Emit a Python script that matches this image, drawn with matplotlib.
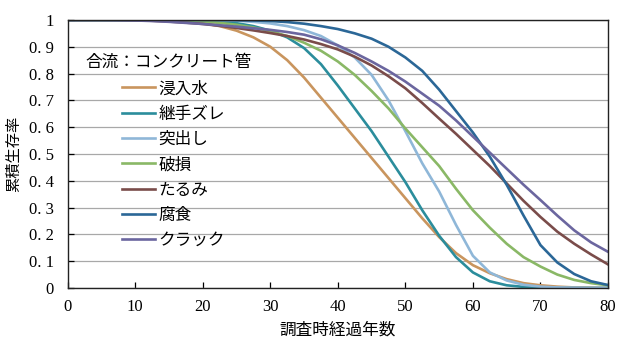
import numpy as np
import matplotlib
matplotlib.use("Agg")
import matplotlib.pyplot as plt

plt.rcParams['font.family'] = ['Noto Sans CJK JP', 'DejaVu Sans']

# elapsed years at survey (every 2.5 years)
years = [i * 2.5 for i in range(33)]

shinnyusui = [1.0, 1.0, 1.0, 1.0, 1.0, 1.0, 0.998, 0.995, 0.988, 0.977, 0.96, 0.935, 0.9,
              0.85, 0.785, 0.71, 0.635, 0.56, 0.485, 0.41, 0.335, 0.26, 0.19, 0.13, 0.085,
              0.055, 0.033, 0.018, 0.01, 0.005, 0.002, 0.001, 0.0]
tsugite = [1.0, 1.0, 1.0, 1.0, 1.0, 1.0, 1.0, 1.0, 0.998, 0.995, 0.988, 0.977, 0.96,
           0.935, 0.895, 0.835, 0.755, 0.67, 0.585, 0.49, 0.395, 0.29, 0.195, 0.115, 0.058,
           0.025, 0.01, 0.004, 0.001, 0.0, 0.0, 0.0, 0.0]
tosshutsu = [1.0, 1.0, 1.0, 1.0, 1.0, 1.0, 1.0, 1.0, 1.0, 0.999, 0.997, 0.993, 0.987,
             0.977, 0.962, 0.94, 0.905, 0.86, 0.795, 0.7, 0.585, 0.465, 0.36, 0.235, 0.12,
             0.058, 0.028, 0.012, 0.005, 0.002, 0.001, 0.0, 0.0]
hason = [1.0, 1.0, 1.0, 1.0, 1.0, 1.0, 0.999, 0.997, 0.994, 0.989, 0.982, 0.972, 0.958,
         0.94, 0.915, 0.885, 0.845, 0.795, 0.735, 0.67, 0.595, 0.525, 0.455, 0.37, 0.29,
         0.225, 0.165, 0.115, 0.08, 0.05, 0.03, 0.018, 0.01]
tarumi = [1.0, 1.0, 1.0, 1.0, 0.999, 0.997, 0.994, 0.99, 0.985, 0.978, 0.97, 0.961, 0.951,
          0.94, 0.927, 0.91, 0.89, 0.863, 0.83, 0.79, 0.745, 0.69, 0.632, 0.575, 0.515,
          0.455, 0.39, 0.325, 0.265, 0.21, 0.165, 0.125, 0.088]
fushoku = [1.0, 1.0, 1.0, 1.0, 1.0, 1.0, 1.0, 1.0, 1.0, 1.0, 0.999, 0.998, 0.996,
           0.992, 0.986, 0.977, 0.966, 0.95, 0.93, 0.9, 0.86, 0.81, 0.74, 0.66, 0.58,
           0.49, 0.385, 0.27, 0.16, 0.095, 0.052, 0.025, 0.011]
crack = [1.0, 1.0, 1.0, 0.999, 0.998, 0.996, 0.993, 0.989, 0.985, 0.98, 0.975, 0.969, 0.963,
         0.955, 0.945, 0.928, 0.905, 0.877, 0.845, 0.81, 0.77, 0.725, 0.68, 0.625, 0.565,
         0.505, 0.445, 0.385, 0.328, 0.27, 0.215, 0.17, 0.135]

labels = ["浸入水", "継手ズレ", "突出し", "破損", "たるみ", "腐食", "クラック"]
series = [shinnyusui, tsugite, tosshutsu, hason, tarumi, fushoku, crack]
colors = ["#c9955e", "#2b8d9c", "#8fb7d8", "#8ab866", "#7a4c4a", "#2b6797", "#6b669f"]

fig = plt.figure(figsize=(6.17, 3.38), dpi=100)
ax = fig.add_axes([0.1097, 0.148, 0.8757, 0.793])

for vals, lab, c in zip(series, labels, colors):
    ax.plot(years, vals, color=c, lw=1.9, label=lab)

ax.set_xlim(0, 80)
ax.set_ylim(0, 1)
ax.set_xticks(range(0, 81, 10))
ax.set_yticks(np.arange(0, 1.01, 0.1))
ax.set_yticklabels(["0"] + ["0. %d" % i for i in range(1, 10)] + ["1"])
ax.grid(axis='y', color='#a8a8a8', lw=0.9)
ax.set_axisbelow(True)
ax.tick_params(direction='in', length=4, width=0.9, labelsize=12)
ax.tick_params(axis='x', pad=8)
ax.tick_params(axis='y', pad=10)
for t in ax.get_xticklabels() + ax.get_yticklabels():
    t.set_fontfamily('Liberation Serif')
for s in ax.spines.values():
    s.set_linewidth(1.0)
    s.set_color('#222222')

ax.set_xlabel("調査時経過年数", fontsize=12, labelpad=5)
ax.set_ylabel("累積生存率", fontsize=11, labelpad=5)

ax.text(0.032, 0.843, "合流：コンクリート管", transform=ax.transAxes,
        fontsize=12, va='center', ha='left')
ax.legend(loc='upper left', bbox_to_anchor=(0.1, 0.775), frameon=False,
          fontsize=12, handlelength=2.0, handletextpad=0.2, labelspacing=0.5,
          borderpad=0, borderaxespad=0)

fig.savefig("out.png", dpi=100)
